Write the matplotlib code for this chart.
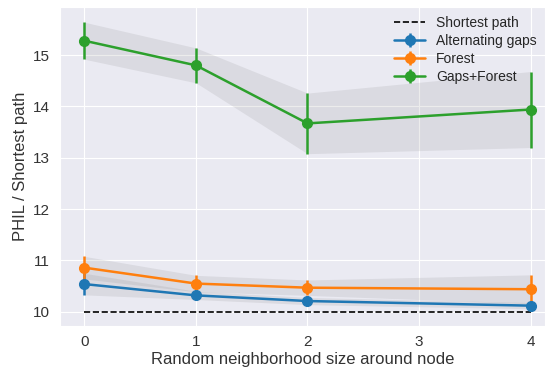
import numpy as np
import matplotlib.pyplot as plt
import seaborn as sns

sns.set_style("darkgrid")
plt.rcParams['font.family'] = ['Liberation Sans', 'DejaVu Sans']

# Data
sizes = [0, 1, 2, 3, 4]
x_pts = [0, 1, 2, 4]

alt_mean = [10.54, 10.32, 10.21, 10.12]
alt_err = [0.21, 0.08, 0.07, 0.06]
forest_mean = [10.86, 10.55, 10.47, 10.44]
forest_err = [0.22, 0.16, 0.15, 0.28]
gf_mean = [15.28, 14.80, 13.67, 13.94]
gf_err = [0.36, 0.34, 0.59, 0.74]

labels = ["Alternating gaps", "Forest", "Gaps+Forest"]
colors = ["#1f77b4", "#ff7f0e", "#2ca02c"]

fig = plt.figure(figsize=(5.45, 3.68), dpi=100)
ax = fig.add_axes([0.11, 0.115, 0.89, 0.865])

ax.plot([0, 4], [10, 10], "k--", lw=1.2, label="Shortest path")
for m, e, lab, c in zip([alt_mean, forest_mean, gf_mean],
                        [alt_err, forest_err, gf_err], labels, colors):
    m = np.array(m)
    e = np.array(e)
    ax.errorbar(x_pts, m, yerr=e, color=c, marker="o", ms=7, lw=1.8,
                elinewidth=1.8, capsize=0, label=lab)
    ax.fill_between(x_pts, m - e, m + e, color="gray", alpha=0.15, lw=0)

ax.set_xlim(-0.22, 4.13)
ax.set_ylim(9.73, 15.93)
ax.set_xticks(sizes)
ax.set_yticks([10, 11, 12, 13, 14, 15])
ax.tick_params(labelsize=11, labelcolor="#333333")
ax.set_xlabel("Random neighborhood size around node", fontsize=12, labelpad=2,
              color="#333333")
ax.set_ylabel("PHIL / Shortest path", fontsize=12, color="#333333")
ax.legend(loc="upper right", fontsize=10, frameon=False, handlelength=2.2,
          labelspacing=0.3, borderaxespad=0.2)

fig.savefig("out.png")
